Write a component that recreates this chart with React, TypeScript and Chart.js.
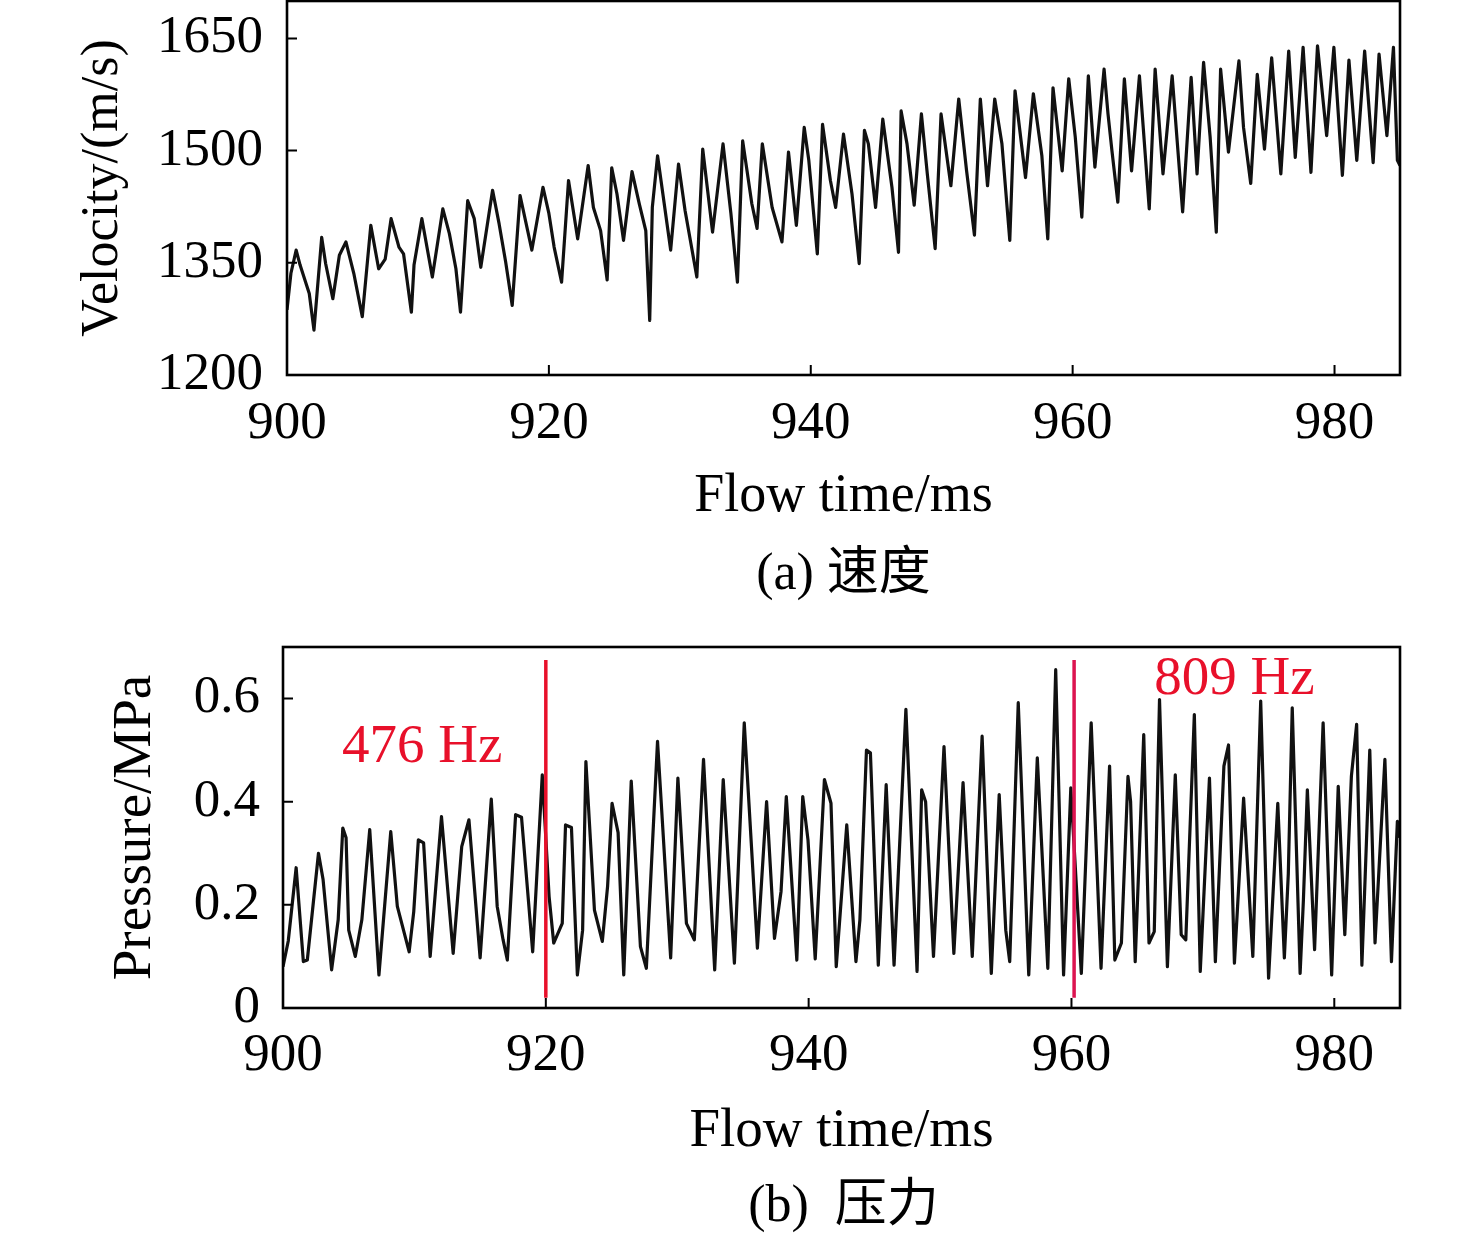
import React, { useEffect, useRef } from "react";
import { Chart, registerables } from "chart.js";

Chart.register(...registerables);

const FONT = '"Liberation Serif", "Times New Roman", serif';

// ---------- (a) velocity ----------
const velTime = [
  900.0, 900.3, 900.7, 901.0, 901.7, 902.06, 902.65, 902.95, 903.5, 904.0, 904.5, 905.1, 905.75, 906.4, 907.0, 907.5,
  907.95, 908.55, 908.9, 909.5, 909.7, 910.3, 911.1, 911.9, 912.4, 912.9, 913.25, 913.8, 914.3, 914.8, 915.7, 916.2,
  916.7, 917.2, 917.8, 918.7, 919.55, 920.0, 920.4, 920.97, 921.5, 922.2, 923.0, 923.4, 923.95, 924.45, 924.8, 925.2,
  925.7, 926.35, 926.9, 927.4, 927.7, 927.9, 928.3, 929.3, 929.9, 930.4, 931.3, 931.75, 932.5, 933.3, 933.9, 934.4,
  934.8, 935.5, 935.9, 936.3, 937.05, 937.8, 938.3, 938.9, 939.5, 939.85, 940.5, 940.9, 941.5, 941.9, 942.5, 943.15,
  943.7, 944.1, 944.4, 944.95, 945.5, 946.2, 946.7, 946.9, 947.35, 947.9, 948.45, 948.9, 949.5, 949.95, 950.7, 951.3,
  951.9, 952.5, 952.95, 953.5, 954.05, 954.6, 955.2, 955.6, 956.4, 957.0, 957.65, 958.1, 958.5, 959.2, 959.7, 960.2,
  960.7, 961.2, 961.7, 962.4, 962.7, 963.0, 963.45, 963.95, 964.5, 965.1, 965.85, 966.3, 966.9, 967.6, 968.4, 969.05,
  969.5, 970.0, 970.5, 970.97, 971.3, 971.9, 972.7, 973.05, 973.6, 974.1, 974.65, 975.2, 975.9, 976.5, 977.0, 977.6,
  978.2, 978.7, 979.4, 979.95, 980.6, 981.1, 981.7, 982.3, 982.95, 983.4, 984.0, 984.5, 984.8, 985.0,
];
const velValue = [
  1287, 1336, 1367, 1347, 1309, 1260, 1384, 1349, 1302, 1360, 1378, 1336, 1278, 1400, 1342, 1355,
  1409, 1371, 1362, 1284, 1347, 1409, 1331, 1422, 1389, 1342, 1284, 1433, 1409, 1344, 1447, 1402,
  1351, 1293, 1440, 1367, 1451, 1416, 1371, 1324, 1460, 1382, 1480, 1424, 1393, 1327, 1477, 1442,
  1380, 1472, 1429, 1393, 1273, 1424, 1493, 1367, 1482, 1420, 1331, 1502, 1391, 1509, 1416, 1324,
  1513, 1429, 1396, 1509, 1424, 1378, 1498, 1400, 1531, 1487, 1362, 1535, 1460, 1424, 1522, 1442,
  1349, 1527, 1509, 1424, 1542, 1451, 1364, 1553, 1509, 1427, 1549, 1469, 1369, 1549, 1453, 1569,
  1473, 1387, 1569, 1453, 1569, 1509, 1380, 1580, 1464, 1576, 1493, 1382, 1584, 1473, 1596, 1518,
  1411, 1600, 1478, 1609, 1549, 1500, 1431, 1596, 1473, 1600, 1422, 1609, 1469, 1600, 1418, 1598,
  1469, 1618, 1518, 1391, 1609, 1498, 1620, 1531, 1456, 1602, 1502, 1624, 1469, 1633, 1491, 1638,
  1471, 1640, 1520, 1638, 1467, 1621, 1487, 1633, 1484, 1629, 1520, 1638, 1487, 1480,
];

// ---------- (b) pressure ----------
const presTime = [
  900.0, 900.4, 901.0, 901.55, 901.85, 902.7, 903.05, 903.7, 904.2, 904.55, 904.8, 905.0, 905.5, 906.0, 906.6, 907.3,
  908.2, 908.7, 909.6, 909.95, 910.3, 910.7, 911.2, 912.06, 912.95, 913.6, 914.15, 915.0, 915.85, 916.3, 916.75, 917.07,
  917.7, 918.15, 919.0, 919.73, 920.25, 920.6, 921.25, 921.5, 921.95, 922.4, 922.8, 923.05, 923.7, 924.3, 924.7, 925.04,
  925.5, 925.93, 926.5, 927.2, 927.65, 928.5, 929.5, 930.05, 930.7, 931.3, 932.0, 932.85, 933.5, 934.35, 935.1, 936.1,
  936.8, 937.4, 937.9, 938.3, 939.1, 939.55, 939.95, 940.5, 941.2, 941.7, 942.1, 942.9, 943.6, 943.9, 944.4, 944.7,
  945.3, 945.9, 946.5, 947.4, 948.25, 948.6, 948.9, 949.5, 950.3, 951.05, 951.75, 952.45, 953.2, 953.9, 954.5, 955.0,
  955.3, 955.95, 956.75, 957.4, 958.2, 958.8, 959.4, 959.95, 960.75, 961.5, 962.25, 962.9, 963.3, 963.8, 964.3, 964.5,
  964.85, 965.5, 965.9, 966.3, 966.7, 967.3, 967.9, 968.35, 968.7, 969.35, 969.8, 970.5, 970.95, 971.6, 971.95, 972.4,
  973.1, 973.8, 974.4, 975.0, 975.7, 976.2, 976.5, 976.8, 977.4, 977.65, 977.95, 978.5, 979.15, 979.8, 980.3, 980.8,
  981.3, 981.7, 982.1, 982.35, 982.7, 983.1, 983.85, 984.35, 984.8, 985.0,
];
const presValue = [
  0.08, 0.13, 0.272, 0.09, 0.093, 0.30, 0.249, 0.074, 0.171, 0.349, 0.33, 0.151, 0.10, 0.171, 0.346, 0.064,
  0.342, 0.197, 0.109, 0.187, 0.326, 0.32, 0.10, 0.371, 0.106, 0.313, 0.365, 0.097, 0.405, 0.197, 0.132, 0.093,
  0.375, 0.37, 0.109, 0.452, 0.216, 0.126, 0.164, 0.355, 0.35, 0.064, 0.151, 0.478, 0.19, 0.129, 0.236, 0.397,
  0.34, 0.064, 0.44, 0.119, 0.077, 0.517, 0.097, 0.446, 0.164, 0.132, 0.482, 0.074, 0.443, 0.087, 0.553, 0.116,
  0.40, 0.135, 0.226, 0.41, 0.093, 0.41, 0.326, 0.095, 0.443, 0.397, 0.08, 0.355, 0.09, 0.171, 0.50, 0.495,
  0.083, 0.433, 0.083, 0.579, 0.071, 0.423, 0.40, 0.10, 0.507, 0.106, 0.437, 0.10, 0.527, 0.067, 0.414, 0.151,
  0.09, 0.592, 0.064, 0.485, 0.077, 0.656, 0.064, 0.427, 0.067, 0.553, 0.077, 0.469, 0.093, 0.126, 0.449, 0.40,
  0.09, 0.53, 0.126, 0.148, 0.598, 0.08, 0.452, 0.142, 0.132, 0.569, 0.071, 0.446, 0.09, 0.469, 0.51, 0.087,
  0.407, 0.10, 0.595, 0.058, 0.397, 0.097, 0.26, 0.582, 0.067, 0.21, 0.423, 0.113, 0.553, 0.064, 0.43, 0.142,
  0.449, 0.55, 0.083, 0.255, 0.50, 0.126, 0.482, 0.09, 0.362, 0.33,
];

// ---------- ticks & annotations ----------
const timeTicks = [900, 920, 940, 960, 980];
const velTicks = [1200, 1350, 1500, 1650];
const presTicks = [0, 0.2, 0.4, 0.6];
const markerTime = [920, 960.2];
const markerLow = 0.02;
const markerHigh = 0.675;
const markerColor = ["#e8102a", "#dc1450"];
const hzText = ["476 Hz", "809 Hz"];
const hzTime = [910.6, 972.4];
const hzValue = [0.505, 0.637];

const framePlugin = {
  id: "frameTicks",
  afterDatasetsDraw(chart: any) {
    const { ctx, chartArea: a, scales } = chart;
    const x = scales.x;
    const y = scales.y;
    ctx.save();
    ctx.strokeStyle = "#000";
    ctx.lineWidth = 2;
    ctx.beginPath();
    x.ticks.forEach((t: any) => {
      const px = x.getPixelForValue(t.value);
      ctx.moveTo(px, a.bottom);
      ctx.lineTo(px, a.bottom - 10);
    });
    y.ticks.forEach((t: any) => {
      const py = y.getPixelForValue(t.value);
      ctx.moveTo(a.left, py);
      ctx.lineTo(a.left + 10, py);
    });
    ctx.stroke();
    ctx.lineWidth = 2.6;
    ctx.strokeRect(a.left, a.top, a.right - a.left, a.bottom - a.top);
    ctx.restore();
  },
};

const hzPlugin = {
  id: "hzLabels",
  afterDatasetsDraw(chart: any) {
    const { ctx, scales } = chart;
    ctx.save();
    ctx.font = `55px ${FONT}`;
    ctx.textAlign = "center";
    ctx.textBaseline = "middle";
    hzText.forEach((txt, i) => {
      ctx.fillStyle = markerColor[0];
      ctx.fillText(txt, scales.x.getPixelForValue(hzTime[i]), scales.y.getPixelForValue(hzValue[i]));
    });
    ctx.restore();
  },
};

const zeroPadding = (s: any) => {
  s.paddingTop = 0;
  s.paddingBottom = 0;
  s.paddingLeft = 0;
  s.paddingRight = 0;
};

function makeConfig(opts: {
  times: number[];
  values: number[];
  yMin: number;
  yMax: number;
  yTicks: number[];
  yTitle: string;
  yTitleSize: number;
  yTitlePad: number;
  yWidth: number;
  yFmt: (v: number) => string;
  xHeight: number;
  xTitleSize: number;
  xTitlePad: number;
  xTickPad: number;
  yTickPad: number;
  padTop: number;
  markers: boolean;
}): any {
  const datasets: any[] = [];
  if (opts.markers) {
    markerTime.forEach((t, i) => {
      datasets.push({
        data: [
          { x: t, y: markerLow },
          { x: t, y: markerHigh },
        ],
        borderColor: markerColor[i],
        borderWidth: 3.5,
        pointRadius: 0,
      });
    });
  }
  datasets.push({
    data: opts.times.map((t, i) => ({ x: t, y: opts.values[i] })),
    borderColor: "#111",
    borderWidth: 3.2,
    borderJoinStyle: "round",
    pointRadius: 0,
    tension: 0,
  });
  return {
    type: "line",
    data: { datasets },
    options: {
      responsive: false,
      animation: false,
      devicePixelRatio: 1,
      events: [],
      layout: { padding: { left: 0, right: 76, top: opts.padTop, bottom: 0 } },
      plugins: { legend: { display: false }, tooltip: { enabled: false } },
      scales: {
        x: {
          type: "linear",
          min: 900,
          max: 985,
          afterBuildTicks: (s: any) => {
            s.ticks = timeTicks.map((value) => ({ value }));
          },
          afterFit: (s: any) => {
            s.height = opts.xHeight;
            zeroPadding(s);
          },
          grid: { display: false, drawTicks: false },
          border: { display: false },
          ticks: {
            font: { family: FONT, size: 53 },
            color: "#000",
            padding: opts.xTickPad,
            maxRotation: 0,
            autoSkip: false,
            callback: (v: any) => String(v),
          },
          title: {
            display: true,
            text: "Flow time/ms",
            font: { family: FONT, size: opts.xTitleSize },
            color: "#000",
            padding: { top: 0, bottom: opts.xTitlePad },
          },
        },
        y: {
          type: "linear",
          min: opts.yMin,
          max: opts.yMax,
          afterBuildTicks: (s: any) => {
            s.ticks = opts.yTicks.map((value) => ({ value }));
          },
          afterFit: (s: any) => {
            s.width = opts.yWidth;
            zeroPadding(s);
          },
          grid: { display: false, drawTicks: false },
          border: { display: false },
          ticks: {
            font: { family: FONT, size: 53 },
            color: "#000",
            padding: opts.yTickPad,
            autoSkip: false,
            callback: (v: any) => opts.yFmt(Number(v)),
          },
          title: {
            display: true,
            text: opts.yTitle,
            font: { family: FONT, size: opts.yTitleSize },
            color: "#000",
            padding: { top: opts.yTitlePad, bottom: 0 },
          },
        },
      },
    },
    plugins: opts.markers ? [framePlugin, hzPlugin] : [framePlugin],
  };
}

const captionStyle = (top: number): React.CSSProperties => ({
  position: "absolute",
  left: 287,
  width: 1113,
  top,
  textAlign: "center",
  fontFamily: '"Liberation Serif", "Noto Sans CJK SC", serif',
  fontSize: 52,
  lineHeight: "52px",
  color: "#000",
  whiteSpace: "pre",
});

export default function App() {
  const velRef = useRef<HTMLCanvasElement>(null);
  const presRef = useRef<HTMLCanvasElement>(null);

  useEffect(() => {
    const c1 = new Chart(
      velRef.current as HTMLCanvasElement,
      makeConfig({
        times: velTime,
        values: velValue,
        yMin: 1200,
        yMax: 1700,
        yTicks: velTicks,
        yTitle: "Velocity/(m/s)",
        yTitleSize: 52,
        yTitlePad: 72,
        yWidth: 287,
        yFmt: (v) => String(v),
        xHeight: 165,
        xTitleSize: 54,
        xTitlePad: 11,
        xTickPad: 17,
        yTickPad: 24,
        padTop: 1,
        markers: false,
      })
    );
    const c2 = new Chart(
      presRef.current as HTMLCanvasElement,
      makeConfig({
        times: presTime,
        values: presValue,
        yMin: 0,
        yMax: 0.7,
        yTicks: presTicks,
        yTitle: "Pressure/MPa",
        yTitleSize: 55,
        yTitlePad: 103,
        yWidth: 283,
        yFmt: (v) => (v === 0 ? "0" : v.toFixed(1)),
        xHeight: 212,
        xTitleSize: 55,
        xTitlePad: 55,
        xTickPad: 16,
        yTickPad: 23,
        padTop: 27,
        markers: true,
      })
    );
    return () => {
      c1.destroy();
      c2.destroy();
    };
  }, []);

  return (
    <div
      style={{
        position: "absolute",
        left: 0,
        top: 0,
        width: 1476,
        height: 1240,
        background: "#fff",
        overflow: "hidden",
      }}
    >
      <canvas
        ref={velRef}
        width={1476}
        height={540}
        style={{ position: "absolute", left: 0, top: 0, width: 1476, height: 540 }}
      />
      <div style={captionStyle(546)}>(a) 速度</div>
      <canvas
        ref={presRef}
        width={1476}
        height={600}
        style={{ position: "absolute", left: 0, top: 620, width: 1476, height: 600 }}
      />
      <div style={captionStyle(1178)}>{"(b)  压力"}</div>
    </div>
  );
}
